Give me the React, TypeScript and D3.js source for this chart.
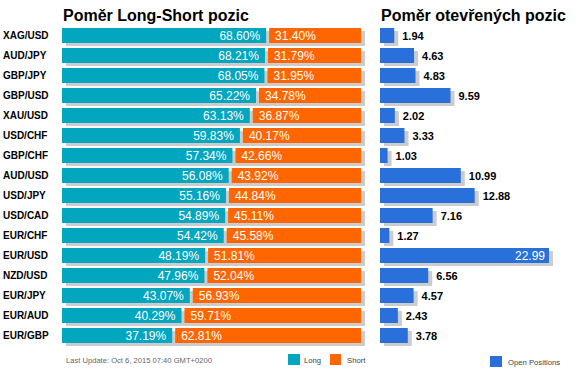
import React from "react";
import * as d3 from "d3";

const pairs = ["XAG/USD","AUD/JPY","GBP/JPY","GBP/USD","XAU/USD","USD/CHF","GBP/CHF","AUD/USD","USD/JPY","USD/CAD","EUR/CHF","EUR/USD","NZD/USD","EUR/JPY","EUR/AUD","EUR/GBP"];
const longPct = [68.60,68.21,68.05,65.22,63.13,59.83,57.34,56.08,55.16,54.89,54.42,48.19,47.96,43.07,40.29,37.19];
const shortPct = [31.40,31.79,31.95,34.78,36.87,40.17,42.66,43.92,44.84,45.11,45.58,51.81,52.04,56.93,59.71,62.81];
const openPos = [1.94,4.63,4.83,9.59,2.02,3.33,1.03,10.99,12.88,7.16,1.27,22.99,6.56,4.57,2.43,3.78];

const TEAL = "#03a6bf";
const ORANGE = "#ff6600";
const BLUE = "#2a70db";
const SHADOW = "#cccccc";
const FONT = "Liberation Sans, Arial, sans-serif";

export default function App() {
  const step = 20;
  const bh = 15;
  const yPos = d3.scaleLinear().domain([0, 1]).range([28, 28 + step]);
  const xL = d3.scaleLinear().domain([0, 100]).range([62, 361]);
  const xR = d3.scaleLinear().domain([0, 22.99]).range([380, 549]);
  return (
    <svg width={578} height={375} style={{ position: "absolute", left: 0, top: 0 }} fontFamily={FONT}>
      <rect width={578} height={375} fill="#fff" />
      <text x={63} y={21} fontSize={16} fontWeight="bold" fill="#000">Poměr Long-Short pozic</text>
      <text x={381} y={21} fontSize={16} fontWeight="bold" fill="#000">Poměr otevřených pozic</text>
      {pairs.map((p, i) => {
        const top = yPos(i);
        const lEnd = xL(longPct[i]);
        const sStart = lEnd + 2;
        const rEnd = xR(openPos[i]);
        const inside = rEnd - xR(0) > 120;
        return (
          <g key={p}>
            <text x={3} y={top + 11} fontSize={10} fontWeight="bold" fill="#000">{p}</text>
            <rect x={xL(0) + 4} y={top + 3} width={xL(100) - xL(0)} height={bh} fill={SHADOW} />
            <rect x={xL(0)} y={top} width={lEnd - 1 - xL(0)} height={bh} fill={TEAL} />
            <rect x={sStart} y={top} width={xL(100) - sStart} height={bh} fill={ORANGE} />
            <text x={lEnd - 7} y={top + 12} fontSize={12} fill="#fff" textAnchor="end">{longPct[i].toFixed(2)}%</text>
            <text x={sStart + 6} y={top + 12} fontSize={12} fill="#fff">{shortPct[i].toFixed(2)}%</text>
            <rect x={xR(0) + 4} y={top + 3} width={rEnd - xR(0)} height={bh} fill={SHADOW} />
            <rect x={xR(0)} y={top} width={rEnd - xR(0)} height={bh} fill={BLUE} />
            {inside ? (
              <text x={rEnd - 4} y={top + 12} fontSize={12} fill="#fff" textAnchor="end">{openPos[i].toFixed(2)}</text>
            ) : (
              <text x={rEnd + 8} y={top + 12} fontSize={11} fontWeight="bold" fill="#000">{openPos[i].toFixed(2)}</text>
            )}
          </g>
        );
      })}
      <text x={66} y={363} fontSize={7.6} fill="#666">Last Update: Oct 6, 2015 07:40 GMT+0200</text>
      <rect x={288} y={354} width={12} height={11} fill={TEAL} />
      <text x={304} y={363} fontSize={7.7} fill="#444">Long</text>
      <rect x={330} y={354} width={11} height={11} fill={ORANGE} />
      <text x={347} y={363} fontSize={7.7} fill="#444">Short</text>
      <rect x={490} y={356} width={12} height={11} fill={BLUE} />
      <text x={508} y={365} fontSize={7.7} fill="#444">Open Positions</text>
    </svg>
  );
}
